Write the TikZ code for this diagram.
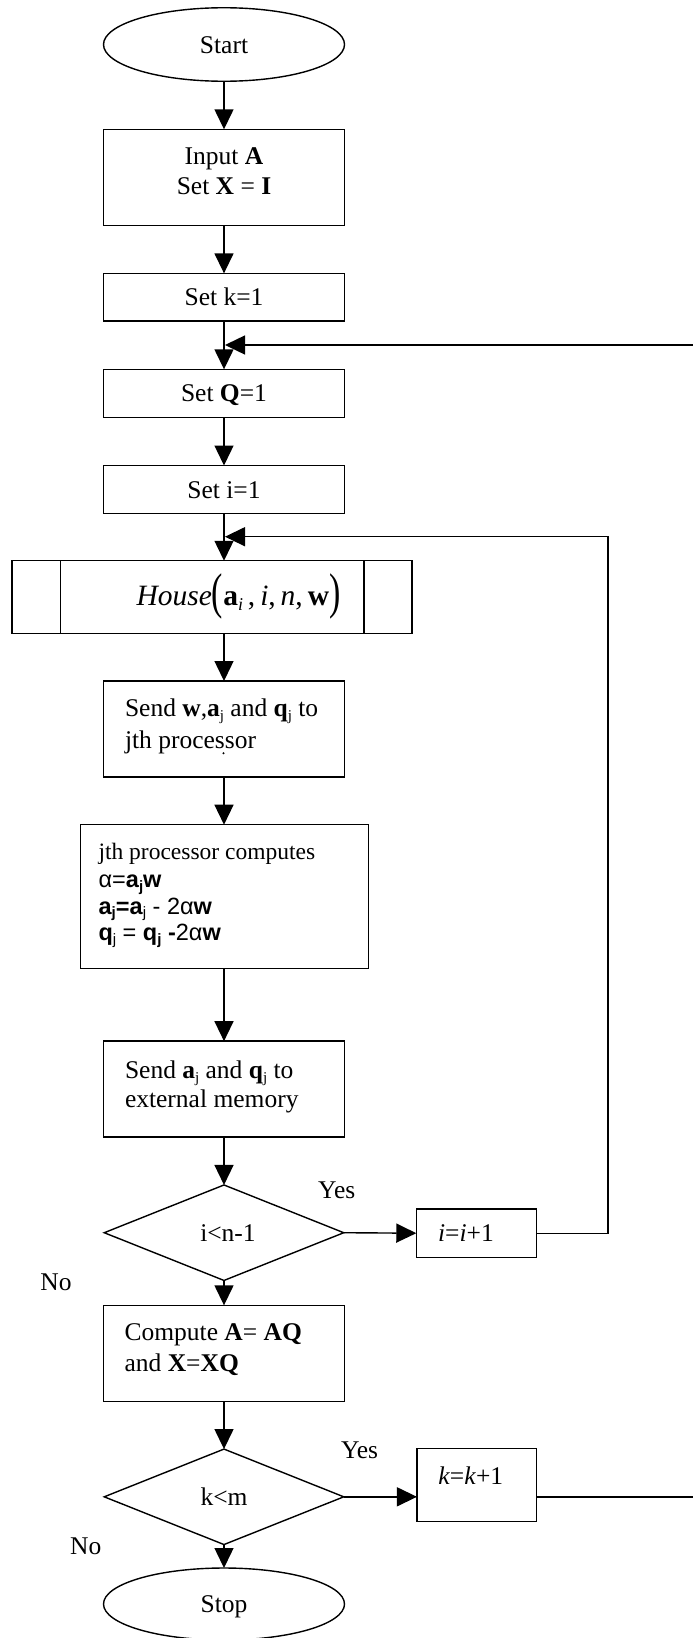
\documentclass[tikz,border=0pt]{standalone}
\usepackage{fontspec}
\usepackage{graphicx}
\setmainfont{Liberation Serif}
\newfontfamily\arialf{Liberation Sans}
\usetikzlibrary{shapes.geometric,arrows.meta}
\newcommand\tmf{\fontsize{25.5}{31}\selectfont}
\newcommand\cmf{\fontsize{23.5}{27}\selectfont}
\newcommand\hsf{\fontsize{29.5}{34}\selectfont}
\newcommand\sbx[3]{\raisebox{-#2}{\fontsize{#1}{#1}\selectfont #3}}
\newcommand\bigpar[1]{\raisebox{-3pt}{\scalebox{1.15}[1.7]{#1}}}
\begin{document}
\begin{tikzpicture}[x=1pt,y=-1pt,
  line width=1.4pt,
  every node/.style={inner sep=0pt, outer sep=0pt},
  box/.style={draw, rectangle, minimum width=241pt},
  oneline/.style={font=\tmf, text height=17pt, text depth=0pt},
  term/.style={draw, ellipse, minimum width=241pt, oneline},
  dec/.style={draw, diamond, minimum width=239.5pt, minimum height=95.5pt, oneline},
  arr/.style={-{Triangle[length=20pt,width=19pt]}},
  tl/.style={font=\tmf, anchor=base west},
  tc/.style={font=\tmf, anchor=base},
  cl/.style={font=\cmf, anchor=base west}
]
\fill[white] (0,0) rectangle (693,1638);
\useasboundingbox (0,0) rectangle (693,1638);

% shapes
\node[term, minimum height=73.5pt] (start) at (224,44.5) {Start};
\node[box, minimum height=96.4pt] (input) at (224,177.5) {};
\node[box, minimum height=47.7pt, oneline] (setk) at (224,297.2) {Set k=1};
\node[box, minimum height=48pt, oneline] (setq) at (224,393.3) {Set \textbf{Q}=1};
\node[box, minimum height=48pt, oneline] (seti) at (224,489.5) {Set i=1};
\node[draw, rectangle, minimum width=400pt, minimum height=72.5pt] (house) at (212,597) {};
\node[box, minimum height=96pt] (send) at (224,729) {};
\node[draw, rectangle, minimum width=288pt, minimum height=144pt] (comp) at (224.5,896.7) {};
\node[box, minimum height=95.7pt] (sendaj) at (224,1089) {};
\node[dec] (d1) at (224,1232.7) {\hspace*{8pt}i<n-1};
\node[draw, rectangle, minimum width=120.2pt, minimum height=48.3pt] (iinc) at (476.4,1233.2) {};
\node[box, minimum height=96pt] (compA) at (224,1353.3) {};
\node[dec] (d2) at (224,1496.8) {k<m};
\node[draw, rectangle, minimum width=119.5pt, minimum height=73pt] (kinc) at (476.7,1485.2) {};
\node[term, minimum height=72pt] (stop) at (224,1604) {Stop};

% house inner bars
\draw (house.north west) ++(48.6,0) -- ++(0,72.5);
\draw (house.north east) ++(-48,0) -- ++(0,72.5);

% texts
\node[tc] (tin1) at (224,164.7) {Input \textbf{A}};
\node[tc] (tin2) at (224,194.7) {Set \textbf{X} = \textbf{I}};
\node[font=\hsf, anchor=base] (thouse) at (238.5,605) {\textit{House}\bigpar{(}\textbf{a}\sbx{18}{5pt}{\textit{i}}\,,\,\textit{i},\,\textit{n},\,\textbf{w}\bigpar{)}};
\node[tl] (ts1) at (125,716.3) {Send \textbf{w},\textbf{a}\sbx{15}{4pt}{j} and \textbf{q}\sbx{15}{4pt}{j} to};
\node[tl] (ts2) at (125,748) {jth processor};
\node[circle, fill, inner sep=0.8pt] (sdot) at (223.5,753.3) {};
\node[cl] (tc1) at (98.5,859.2) {jth processor computes};
\node[cl] (tc2) at (98.5,887.5) {\arialf α=\textbf{a}\sbx{15}{3.5pt}{\textbf{j}}\textbf{w}};
\node[cl] (tc3) at (98.5,914.2) {\arialf\textbf{a}\sbx{15}{3.5pt}{\textbf{j}}\textbf{=a}\sbx{15}{3.5pt}{j} - 2α\textbf{w}};
\node[cl] (tc4) at (98.5,940.8) {\arialf\textbf{q}\sbx{15}{3.5pt}{j} = \textbf{q}\sbx{15}{3.5pt}{\textbf{j}} \textbf{-}2α\textbf{w}};
\node[tl] (ta1) at (125,1078) {Send \textbf{a}\sbx{15}{4pt}{j} and \textbf{q}\sbx{15}{4pt}{j} to};
\node[tl] (ta2) at (125,1107) {external memory};
\node[tl] (tx1) at (124.6,1340.5) {Compute \textbf{A}= \textbf{AQ}};
\node[tl] (tx2) at (124.6,1371) {and \textbf{X}=\textbf{XQ}};
\node[tc] (tii) at (466,1241.3) {\textit{i}=\textit{i}+1};
\node[tc] (tkk) at (470.7,1484.7) {\textit{k}=\textit{k}+1};
\node[tc] (yes1) at (336.7,1198) {Yes};
\node[tc] (yes2) at (359.6,1458.7) {Yes};
\node[tc] (no1) at (56,1290.7) {No};
\node[tc] (no2) at (85.7,1554.7) {No};

% junction points
\coordinate (j0) at (225,345);
\coordinate (j1) at (225,536.7);
\coordinate (r1) at (608,1233.2);
\coordinate (r1t) at (608,536.7);
\coordinate (r2) at (700,1496.8);
\coordinate (r2t) at (700,345);

% main flow
\draw[arr] (start) -- (input);
\draw[arr] (input) -- (setk);
\draw[arr] (setk) -- (setq);
\draw[arr] (setq) -- (seti);
\draw[arr] (seti.south) -- (house.north -| seti.south);
\draw[arr] (house.south -| send.north) -- (send.north);
\draw[arr] (send) -- (comp.north -| send.south);
\draw[arr] (comp.south -| sendaj.north) -- (sendaj);
\draw[arr] (sendaj) -- (d1);
\draw[arr] (d1) -- (compA);
\draw[arr] (compA) -- (d2);
\draw[arr] (d2) -- (stop);

% branches
\draw[arr] (d1.east) -- (iinc.west);
\draw[arr] (d2.east) -- (d2.east -| kinc.west);
\draw[arr] (iinc.east) -- (r1) -- (r1t) -- (j1);
\draw[arr] (d2.east -| kinc.east) -- (r2) -- (r2t) -- (j0);
\end{tikzpicture}
\end{document}
